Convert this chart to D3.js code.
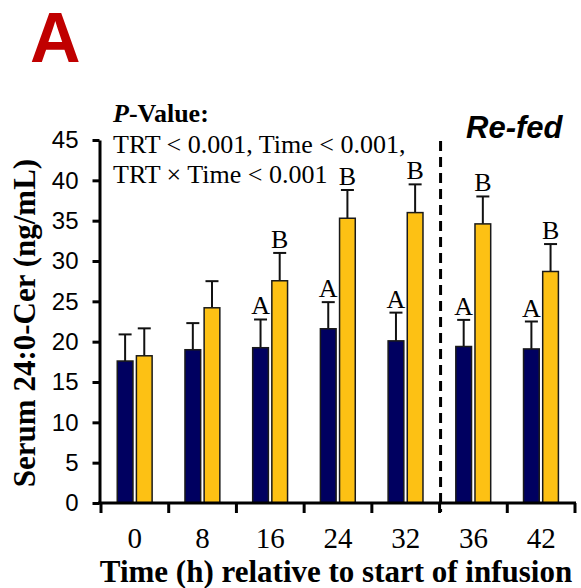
<!DOCTYPE html>
<html>
<head>
<meta charset="utf-8">
<script src="https://cdn.jsdelivr.net/npm/d3@7"></script>
<style>
  body { margin: 0; background: #fff; }
  svg { display: block; }
</style>
</head>
<body>
<svg id="chart" width="581" height="588"></svg>
<script>
// time points (h) relative to start of infusion
const times = ["0", "8", "16", "24", "32", "36", "42"];
// control (navy) and treatment (gold) means, ng/mL
const ctrlMean = [17.6, 19.0, 19.25, 21.6, 20.1, 19.4, 19.1];
const ctrlErr = [3.3, 3.3, 3.5, 3.3, 3.5, 3.3, 3.4];
const trtMean = [18.25, 24.2, 27.55, 35.3, 36.0, 34.6, 28.7];
const trtErr = [3.4, 3.3, 3.45, 3.5, 3.5, 3.4, 3.4];
// letters above the error bars
const ctrlLetters = ["", "", "A", "A", "A", "A", "A"];
const trtLetters = ["", "", "B", "B", "B", "B", "B"];
const yTicks = [0, 5, 10, 15, 20, 25, 30, 35, 40, 45];

const serif = "'Liberation Serif', 'Times New Roman', serif";
const sans = "'Liberation Sans', Arial, sans-serif";

var svg = d3.select("#chart");

var x0 = d3.scaleBand().domain(times).range([101, 575]);
var x1 = d3.scaleBand().domain(["ctrl", "trt"])
  .range([x0.bandwidth() * 0.24, x0.bandwidth() * 0.755])
  .paddingInner(0.18);
var y = d3.scaleLinear().domain([0, 45]).range([503, 140]);

// panel letter
svg.append("text")
  .attr("x", 30).attr("y", 62)
  .style("font-family", sans).style("font-weight", "bold")
  .style("font-size", "70px").style("fill", "#c00000")
  .text("A");

// build rows for the bars
var rows = [];
times.forEach(function (t, i) {
  rows.push({ t: t, grp: "ctrl", v: ctrlMean[i], e: ctrlErr[i], lab: ctrlLetters[i] });
  rows.push({ t: t, grp: "trt", v: trtMean[i], e: trtErr[i], lab: trtLetters[i] });
});
var color = { ctrl: "#000060", trt: "#fdc114" };
var cx = function (d) { return x0(d.t) + x1(d.grp) + x1.bandwidth() / 2; };

// error bars (upper only)
var eb = svg.append("g").attr("class", "errors");
eb.selectAll("line.v").data(rows).enter().append("line")
  .attr("x1", cx).attr("x2", cx)
  .attr("y1", function (d) { return y(d.v); })
  .attr("y2", function (d) { return y(d.v + d.e); })
  .attr("stroke", "#111").attr("stroke-width", 2);
eb.selectAll("line.c").data(rows).enter().append("line")
  .attr("x1", function (d) { return cx(d) - 6.5; })
  .attr("x2", function (d) { return cx(d) + 6.5; })
  .attr("y1", function (d) { return y(d.v + d.e); })
  .attr("y2", function (d) { return y(d.v + d.e); })
  .attr("stroke", "#111").attr("stroke-width", 2);

// bars
svg.append("g").attr("class", "bars")
  .selectAll("rect").data(rows).enter().append("rect")
  .attr("x", function (d) { return x0(d.t) + x1(d.grp); })
  .attr("width", x1.bandwidth())
  .attr("y", function (d) { return y(d.v); })
  .attr("height", function (d) { return y(0) - y(d.v); })
  .attr("fill", function (d) { return color[d.grp]; })
  .attr("stroke", "#1a1a1a").attr("stroke-width", 1.5);

// significance letters
svg.append("g").attr("class", "letters")
  .selectAll("text").data(rows.filter(function (d) { return d.lab; }))
  .enter().append("text")
  .attr("x", cx)
  .attr("y", function (d) { return y(d.v + d.e) - 5; })
  .attr("text-anchor", "middle")
  .style("font-family", serif).style("font-size", "26px")
  .text(function (d) { return d.lab; });

// y axis
var yAxis = svg.append("g")
  .attr("transform", "translate(99.5,0)")
  .call(d3.axisLeft(y).tickValues(yTicks).tickSize(7).tickPadding(14).tickSizeOuter(0));
yAxis.select(".domain").attr("stroke", "#000").attr("stroke-width", 3);
yAxis.selectAll(".tick line").attr("stroke", "#000").attr("stroke-width", 3);
yAxis.selectAll(".tick text")
  .style("font-family", sans).style("font-size", "24px").attr("fill", "#000");

// x axis: labels at the centres, ticks at the category boundaries
var xAxis = svg.append("g")
  .attr("transform", "translate(0,503)")
  .call(d3.axisBottom(x0).tickSize(0).tickPadding(24.5).tickSizeOuter(0));
xAxis.select(".domain").remove();
xAxis.selectAll(".tick text")
  .style("font-family", serif).style("font-size", "29px").attr("fill", "#000");
svg.append("line")
  .attr("x1", 98).attr("x2", 576).attr("y1", 503).attr("y2", 503)
  .attr("stroke", "#000").attr("stroke-width", 3);
var bounds = times.map(function (t) { return x0(t); }).concat([x0.range()[1]]);
svg.append("g").selectAll("line").data(bounds).enter().append("line")
  .attr("x1", function (d) { return d; }).attr("x2", function (d) { return d; })
  .attr("y1", 503).attr("y2", 513)
  .attr("stroke", "#000").attr("stroke-width", 3);

// fasting / re-fed split
var splitX = x0("36") + 1;
svg.append("line")
  .attr("x1", splitX).attr("x2", splitX)
  .attr("y1", 141).attr("y2", 512)
  .attr("stroke", "#000").attr("stroke-width", 3)
  .attr("stroke-dasharray", "10,6");
svg.append("text")
  .attr("x", 466).attr("y", 138)
  .style("font-family", sans).style("font-weight", "bold")
  .style("font-style", "italic").style("font-size", "31px")
  .text("Re-fed");

// P-value block
var pv = svg.append("text")
  .style("font-family", serif).style("font-size", "26px").attr("fill", "#000");
var l1 = pv.append("tspan").attr("x", 113).attr("y", 122).style("font-weight", "bold");
l1.append("tspan").style("font-style", "italic").text("P");
l1.append("tspan").text("-Value:");
pv.append("tspan").attr("x", 113).attr("y", 153).text("TRT < 0.001, Time < 0.001,");
pv.append("tspan").attr("x", 113).attr("y", 183).text("TRT \u00d7 Time < 0.001");

// axis titles
svg.append("text")
  .attr("transform", "translate(35,323) rotate(-90)")
  .attr("text-anchor", "middle")
  .style("font-family", serif).style("font-weight", "bold").style("font-size", "31px")
  .text("Serum 24:0-Cer (ng/mL)");
svg.append("text")
  .attr("x", 336).attr("y", 582)
  .attr("text-anchor", "middle")
  .style("font-family", serif).style("font-weight", "bold").style("font-size", "31px")
  .text("Time (h) relative to start of infusion");
</script>
</body>
</html>
